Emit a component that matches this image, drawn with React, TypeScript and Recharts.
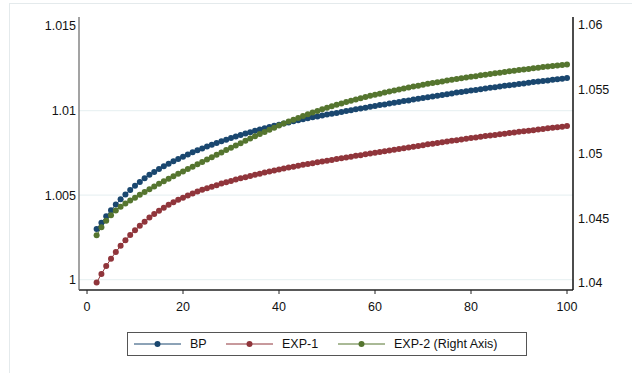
import React from 'react';
import { LineChart, Line, XAxis, YAxis, ReferenceLine, Legend } from 'recharts';

const X_VALUES = [
  2, 3, 4, 5, 6, 7, 8, 9, 10, 11, 12, 13, 14, 15, 16, 17, 18, 19, 20, 21,
  22, 23, 24, 25, 26, 27, 28, 29, 30, 31, 32, 33, 34, 35, 36, 37, 38, 39, 40, 41,
  42, 43, 44, 45, 46, 47, 48, 49, 50, 51, 52, 53, 54, 55, 56, 57, 58, 59, 60, 61,
  62, 63, 64, 65, 66, 67, 68, 69, 70, 71, 72, 73, 74, 75, 76, 77, 78, 79, 80, 81,
  82, 83, 84, 85, 86, 87, 88, 89, 90, 91, 92, 93, 94, 95, 96, 97, 98, 99, 100,
];

const BP = [
  1.00300, 1.00337, 1.00375, 1.00411, 1.00444, 1.00475, 1.00503, 1.00530, 1.00555, 1.00578,
  1.00599, 1.00620, 1.00637, 1.00654, 1.00670, 1.00685, 1.00700, 1.00714, 1.00727, 1.00740,
  1.00753, 1.00765, 1.00776, 1.00787, 1.00798, 1.00808, 1.00818, 1.00828, 1.00837, 1.00846,
  1.00855, 1.00864, 1.00872, 1.00880, 1.00888, 1.00895, 1.00902, 1.00910, 1.00916, 1.00923,
  1.00930, 1.00936, 1.00942, 1.00948, 1.00954, 1.00960, 1.00965, 1.00970, 1.00976, 1.00981,
  1.00986, 1.00992, 1.00997, 1.01002, 1.01007, 1.01012, 1.01017, 1.01022, 1.01027, 1.01032,
  1.01036, 1.01041, 1.01046, 1.01051, 1.01056, 1.01060, 1.01065, 1.01070, 1.01074, 1.01079,
  1.01083, 1.01088, 1.01092, 1.01097, 1.01101, 1.01106, 1.01110, 1.01114, 1.01118, 1.01122,
  1.01126, 1.01130, 1.01134, 1.01138, 1.01142, 1.01146, 1.01149, 1.01153, 1.01157, 1.01160,
  1.01164, 1.01168, 1.01171, 1.01175, 1.01178, 1.01182, 1.01185, 1.01188, 1.01192,
];

const EXP1 = [
  0.99983, 1.00034, 1.00081, 1.00124, 1.00164, 1.00200, 1.00233, 1.00264, 1.00292, 1.00319,
  1.00343, 1.00367, 1.00389, 1.00408, 1.00426, 1.00443, 1.00458, 1.00472, 1.00485, 1.00498,
  1.00509, 1.00521, 1.00531, 1.00541, 1.00550, 1.00559, 1.00568, 1.00576, 1.00584, 1.00592,
  1.00599, 1.00606, 1.00613, 1.00620, 1.00627, 1.00633, 1.00639, 1.00645, 1.00651, 1.00657,
  1.00663, 1.00668, 1.00674, 1.00679, 1.00684, 1.00689, 1.00694, 1.00698, 1.00703, 1.00708,
  1.00713, 1.00718, 1.00722, 1.00727, 1.00732, 1.00736, 1.00741, 1.00746, 1.00750, 1.00755,
  1.00759, 1.00764, 1.00768, 1.00773, 1.00777, 1.00782, 1.00786, 1.00791, 1.00795, 1.00800,
  1.00804, 1.00808, 1.00813, 1.00817, 1.00821, 1.00825, 1.00829, 1.00833, 1.00837, 1.00841,
  1.00845, 1.00849, 1.00852, 1.00856, 1.00860, 1.00863, 1.00867, 1.00870, 1.00874, 1.00877,
  1.00881, 1.00884, 1.00888, 1.00891, 1.00895, 1.00898, 1.00901, 1.00904, 1.00908,
];

const EXP2 = [
  1.04368, 1.04430, 1.04480, 1.04524, 1.04560, 1.04589, 1.04614, 1.04637, 1.04660, 1.04682,
  1.04704, 1.04725, 1.04746, 1.04767, 1.04787, 1.04807, 1.04826, 1.04845, 1.04863, 1.04882,
  1.04900, 1.04919, 1.04937, 1.04955, 1.04974, 1.04992, 1.05011, 1.05029, 1.05047, 1.05065,
  1.05083, 1.05101, 1.05119, 1.05136, 1.05153, 1.05170, 1.05187, 1.05203, 1.05219, 1.05235,
  1.05250, 1.05265, 1.05279, 1.05293, 1.05307, 1.05320, 1.05333, 1.05345, 1.05357, 1.05369,
  1.05380, 1.05391, 1.05402, 1.05412, 1.05422, 1.05431, 1.05441, 1.05450, 1.05459, 1.05467,
  1.05476, 1.05484, 1.05492, 1.05499, 1.05507, 1.05514, 1.05522, 1.05529, 1.05536, 1.05543,
  1.05549, 1.05556, 1.05562, 1.05569, 1.05575, 1.05581, 1.05586, 1.05592, 1.05598, 1.05603,
  1.05609, 1.05614, 1.05620, 1.05625, 1.05630, 1.05635, 1.05640, 1.05645, 1.05650, 1.05654,
  1.05659, 1.05664, 1.05668, 1.05673, 1.05677, 1.05681, 1.05685, 1.05689, 1.05694,
];

const X_TICKS = [0, 20, 40, 60, 80, 100];
const LEFT_TICKS = [1, 1.005, 1.01, 1.015];
const RIGHT_TICKS = [1.04, 1.045, 1.05, 1.055, 1.06];
const GRID_VALUES = [1, 1.005, 1.01];

const SERIES = [
  { key: 'bp', name: 'BP', color: '#1a476f', axis: 'left' },
  { key: 'exp1', name: 'EXP-1', color: '#90353b', axis: 'left' },
  { key: 'exp2', name: 'EXP-2 (Right Axis)', color: '#55752f', axis: 'right' },
];

const data = X_VALUES.map((x, i) => ({ x, bp: BP[i], exp1: EXP1[i], exp2: EXP2[i] }));

const FONT = '"Liberation Sans", Arial, Helvetica, sans-serif';
const tickStyle = { fill: '#111', fontSize: 12.5, fontFamily: FONT };

const LegendBox = () => {
  const itemLeft = [6, 98, 210];
  return (
    <div
      style={{
        position: 'relative',
        width: 400,
        height: 24,
        boxSizing: 'border-box',
        border: '1px solid #555',
        background: '#fff',
        fontFamily: FONT,
        fontSize: 12.5,
        color: '#111',
      }}
    >
      {SERIES.map((s, i) => (
        <div
          key={s.key}
          style={{ position: 'absolute', left: itemLeft[i], top: 0, height: 22, display: 'flex', alignItems: 'center' }}
        >
          <svg width={47} height={10} style={{ display: 'block' }}>
            <line x1={0} y1={5} x2={47} y2={5} stroke={s.color} strokeWidth={1} />
            <circle cx={23.5} cy={5} r={3} fill={s.color} />
          </svg>
          <span style={{ marginLeft: 9, whiteSpace: 'nowrap', lineHeight: '22px' }}>{s.name}</span>
        </div>
      ))}
    </div>
  );
};

export default function App() {
  return (
    <div style={{ position: 'absolute', left: 0, top: 0, width: 632, height: 373, background: '#fff', overflow: 'hidden' }}>
      <div
        style={{
          position: 'absolute',
          left: 9,
          top: 3,
          width: 700,
          height: 420,
          border: '1px solid #e4eaec',
          boxSizing: 'border-box',
        }}
      />
      <div style={{ position: 'absolute', left: 0, top: 0 }}>
        <LineChart width={632} height={373} data={data} margin={{ top: 17, right: 0, bottom: 29, left: 0 }}>
          <XAxis
            dataKey="x"
            type="number"
            domain={[-1.67, 101.25]}
            allowDataOverflow
            ticks={X_TICKS}
            tick={tickStyle}
            tickSize={4}
            tickMargin={8}
            height={30}
            stroke="#222"
            axisLine={{ stroke: '#222', strokeWidth: 1.5 }}
            tickLine={{ stroke: '#222' }}
          />
          <XAxis
            xAxisId="top"
            dataKey="x"
            type="number"
            orientation="top"
            domain={[-1.67, 101.25]}
            allowDataOverflow
            tick={false}
            tickLine={false}
            height={0}
            axisLine={{ stroke: '#999', strokeWidth: 1 }}
          />
          <YAxis
            yAxisId="left"
            orientation="left"
            type="number"
            domain={[0.99939, 1.01553]}
            allowDataOverflow
            ticks={LEFT_TICKS}
            tick={tickStyle}
            tickLine={false}
            tickSize={0}
            tickMargin={3}
            width={79}
            axisLine={{ stroke: '#666', strokeWidth: 1.2 }}
          />
          <YAxis
            yAxisId="right"
            orientation="right"
            type="number"
            domain={[1.03943, 1.06062]}
            allowDataOverflow
            ticks={RIGHT_TICKS}
            tick={{ ...tickStyle, textAnchor: 'start' }}
            tickLine={false}
            tickSize={0}
            tickMargin={5}
            width={59}
            axisLine={{ stroke: '#111', strokeWidth: 1.5 }}
          />
          {GRID_VALUES.map((v) => (
            <ReferenceLine key={v} yAxisId="left" y={v} stroke="#eaf2f3" strokeWidth={1.2} />
          ))}
          {SERIES.map((s) => (
            <Line
              key={s.key}
              yAxisId={s.axis}
              dataKey={s.key}
              name={s.name}
              stroke={s.color}
              strokeWidth={1}
              dot={{ r: 3, fill: s.color, stroke: 'none' }}
              activeDot={false}
              isAnimationActive={false}
            />
          ))}
          <Legend
            verticalAlign="bottom"
            content={() => <LegendBox />}
            wrapperStyle={{ left: 127, top: 332, width: 400, height: 24 }}
          />
        </LineChart>
      </div>
    </div>
  );
}
